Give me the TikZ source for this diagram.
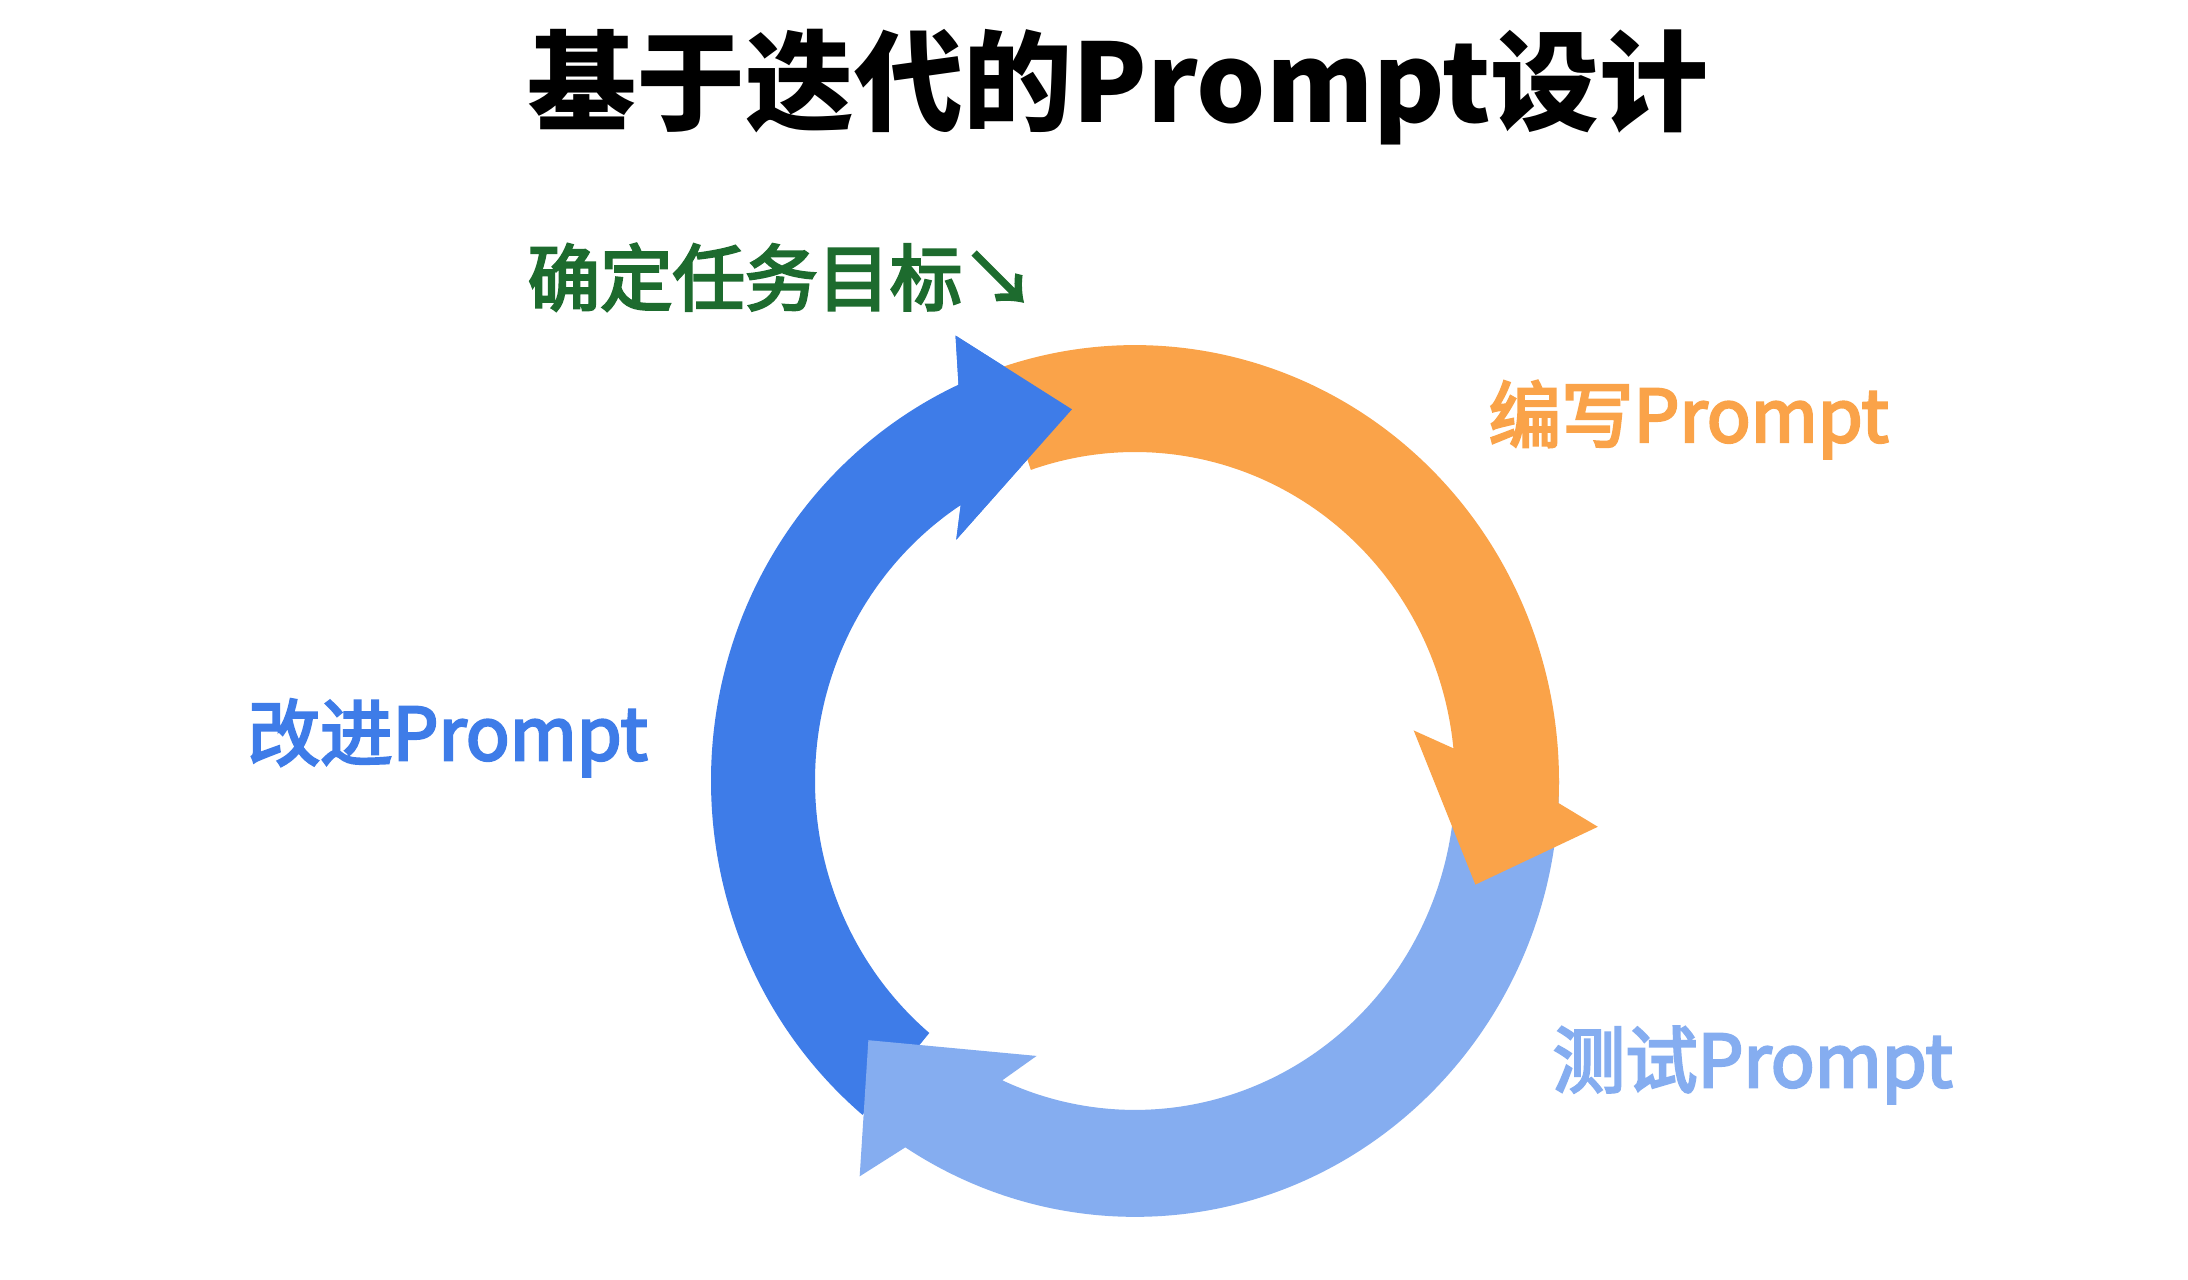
\documentclass[tikz,border=0pt]{standalone}
\usepackage{fontspec}
\setmainfont{Noto Sans CJK SC}
\newfontfamily\labfont[FakeBold=3.5]{Noto Sans CJK SC}
\definecolor{dblue}{RGB}{62,124,232}
\definecolor{lblue}{RGB}{133,173,240}
\definecolor{ora}{RGB}{250,163,73}
\definecolor{dgreen}{RGB}{29,107,46}
\begin{document}
\begin{tikzpicture}[x=.01cm,y=.01cm,lab/.style={anchor=base west,inner sep=0pt,font=\fontsize{20.6}{21}\selectfont\labfont}]
\useasboundingbox[fill=white](0,0)rectangle(2188,1280);
\begin{scope}[shift={(1135,499)},yscale=1.028]
\foreach \c/\t/\o/\ob/\tp/\ib/\i in {dblue/230/114.6/112.5:469/99.9:367/127.3:295/123,lblue/0/-122.8/-125.6:473/-136.6:367/-110.2:285/-114.5,ora/109/-2.9/-5.5:465/-16.5:355/10:283/5.7}
\fill[\c](\t:424)arc[start angle=\t,end angle=\o,radius=424]--(\ob)--(\tp)--(\ib)--(\i:320)arc[start angle=\i,end angle=\t,radius=320]--cycle;
\fill[dblue](114.6:424)--(112.5:469)--(99.9:367)--(127.3:295)--(123:320)--cycle;
\end{scope}
\node[anchor=base,inner sep=0pt,font=\fontsize{31}{31}\selectfont\bfseries](title)at(1118,1157){基于迭代的Prompt设计};
\node[lab,text=dgreen](goal)at(527,975){确定任务目标↘};
\node[lab,text=ora](write)at(1488,838){编写Prompt};
\node[lab,text=dblue](improve)at(247,520){改进Prompt};
\node[lab,text=lblue](test)at(1552,193){测试Prompt};
\end{tikzpicture}
\end{document}
